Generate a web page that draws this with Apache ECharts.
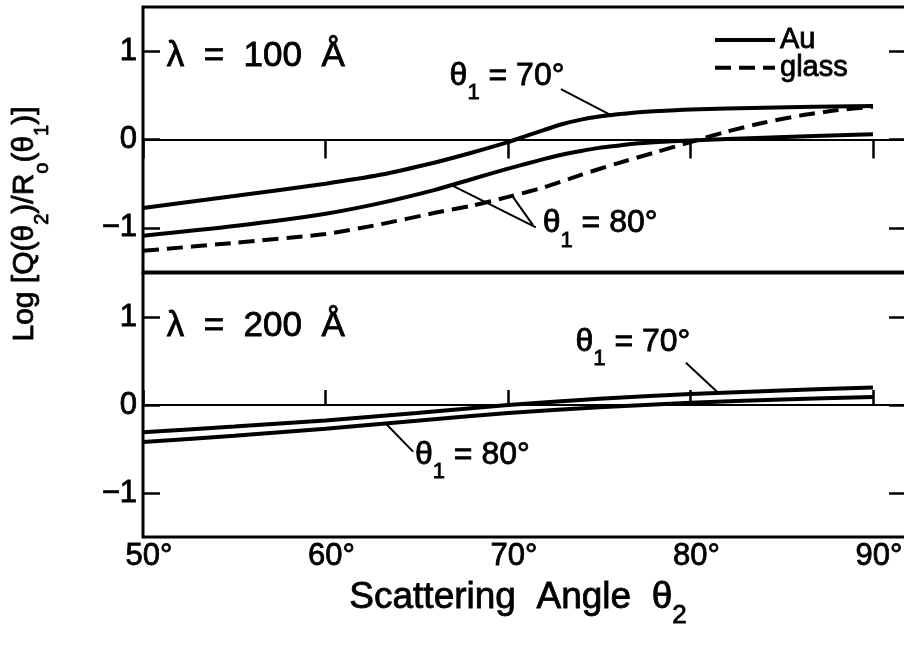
<!DOCTYPE html>
<html>
<head>
<meta charset="utf-8">
<style>
  html, body { margin: 0; padding: 0; background: #fff; }
  #chart { width: 904px; height: 648px; }
</style>
</head>
<body>
<div id="chart"></div>
<script src="https://cdn.jsdelivr.net/npm/echarts@6/dist/echarts.min.js"></script>
<script>
  // values: scattering angle θ2 (deg) -> log ratio
  const angleTop = [50, 55, 60, 63, 66, 68, 70, 71, 72, 73, 74, 75, 76, 77, 78, 80, 84, 90];
  const au70Top  = [-0.775, -0.64, -0.50, -0.40, -0.26, -0.15, -0.03, 0.04, 0.11, 0.175, 0.225, 0.26, 0.285, 0.305, 0.32, 0.34, 0.36, 0.38];
  const au80Top  = [-1.09, -0.98, -0.84, -0.72, -0.57, -0.45, -0.33, -0.275, -0.22, -0.17, -0.13, -0.095, -0.07, -0.045, -0.03, -0.01, 0.02, 0.06];

  const angleGlass = [50, 55, 60, 63, 66, 68, 70, 72, 74, 76, 78, 80, 82, 84, 86, 88, 90];
  const glass80Top = [-1.26, -1.17, -1.07, -0.96, -0.83, -0.75, -0.65, -0.54, -0.40, -0.27, -0.15, -0.03, 0.09, 0.19, 0.27, 0.33, 0.37];

  const angleBottom = [50, 55, 60, 65, 70, 75, 80, 85, 90];
  const au70Bottom  = [-0.31, -0.245, -0.175, -0.09, 0.0, 0.07, 0.125, 0.165, 0.20];
  const au80Bottom  = [-0.42, -0.35, -0.27, -0.18, -0.09, -0.025, 0.025, 0.062, 0.09];

  const xTicks = [50, 60, 70, 80, 90];
  const yTicks = [-1, 0, 1];

  // annotations, in data units [angle, value]
  const notesTop = [
    { text: '{b|λ  =  100  Å}', at: [51.3, 0.94] },
    { text: '{t|θ}{s|1}{t| = 70°}', at: [66.8, 0.65] },
    { text: '{t|θ}{s|1}{t| = 80°}', at: [71.9, -1.02] }
  ];
  const leadersTop = [
    [[72.9, 0.57], [75.64, 0.277]],
    [[66.93, -0.52], [71.53, -0.995]],
    [[70.27, -0.65], [71.37, -0.97]]
  ];
  const notesBottom = [
    { text: '{b|λ  =  200  Å}', at: [51.3, 0.89] },
    { text: '{t|θ}{s|1}{t| = 70°}', at: [73.7, 0.65] },
    { text: '{t|θ}{s|1}{t| = 80°}', at: [64.9, -0.64] }
  ];
  const leadersBottom = [
    [[79.75, 0.48], [81.5, 0.142]],
    [[63.3, -0.21], [64.8, -0.53]]
  ];

  const FF = '"Liberation Sans", Arial, Helvetica, sans-serif';
  // echarts label styles (axis labels, legend)
  const ink = { color: '#000', fontFamily: FF, textBorderColor: '#000', textBorderWidth: 0.8 };
  // zrender text styles (graphic elements)
  const zink = { fill: '#000', fontFamily: FF, stroke: '#000', lineWidth: 0.8 };
  const rich = {
    b: Object.assign({ fontSize: 35 }, zink),
    t: Object.assign({ fontSize: 32, lineHeight: 44, verticalAlign: 'top' }, zink),
    s: Object.assign({ fontSize: 22, lineHeight: 22, verticalAlign: 'bottom' }, zink)
  };

  const zip = (xs, ys) => xs.map((x, i) => [x, ys[i]]);

  function curve(name, xs, ys, grid, dashed) {
    return {
      name: name,
      type: 'line',
      xAxisIndex: grid,
      yAxisIndex: grid,
      data: zip(xs, ys),
      symbol: 'none',
      smooth: 0.25,
      silent: true,
      z: 3,
      itemStyle: { color: '#000' },
      lineStyle: { color: '#000', width: 4, type: dashed ? [16, 8] : 'solid' }
    };
  }

  function zeroAndLeaders(grid, leaders) {
    return {
      type: 'line',
      xAxisIndex: grid,
      yAxisIndex: grid,
      data: [],
      silent: true,
      markLine: {
        silent: true,
        symbol: ['none', 'none'],
        label: { show: false },
        lineStyle: { color: '#000', width: 2, type: 'solid' },
        data: [{ yAxis: 0 }].concat(leaders.map(l => [{ coord: l[0] }, { coord: l[1] }]))
      }
    };
  }

  function xAxis(grid, pos, tickLen, labels) {
    return {
      type: 'value', gridIndex: grid, position: pos,
      min: 50, max: 91.81,
      axisLine: { show: false },
      axisTick: { inside: true, length: tickLen, customValues: xTicks, lineStyle: { color: '#000', width: 2.5 } },
      axisLabel: Object.assign({
        show: labels, customValues: xTicks, fontSize: 31,
        margin: 4, padding: [0, 0, 0, 12], formatter: v => v + '°'
      }, ink),
      splitLine: { show: false }
    };
  }

  function yAxis(grid, pos, labels) {
    return {
      type: 'value', gridIndex: grid, position: pos,
      min: -1.5, max: 1.5,
      axisLine: { show: false },
      axisTick: { inside: true, length: 17, customValues: yTicks, lineStyle: { color: '#000', width: 2.5 } },
      axisLabel: Object.assign({
        show: labels, customValues: yTicks, fontSize: 31,
        margin: 6, formatter: v => (v < 0 ? '−' + (-v) : String(v))
      }, ink),
      splitLine: { show: false }
    };
  }

  const chart = echarts.init(document.getElementById('chart'), null, { renderer: 'canvas' });

  const option = {
    animation: false,
    backgroundColor: '#fff',
    grid: [
      { left: 143, top: 7, width: 763, height: 265, show: true, borderColor: '#000', borderWidth: 3, outerBoundsMode: 'none', containLabel: false },
      { left: 143, top: 273, width: 763, height: 264, show: true, borderColor: '#000', borderWidth: 3, outerBoundsMode: 'none', containLabel: false }
    ],
    xAxis: [xAxis(0, 'top', 19, false), xAxis(1, 'bottom', 15, true)],
    yAxis: [yAxis(0, 'left', true), yAxis(1, 'left', true), yAxis(0, 'right', false), yAxis(1, 'right', false)],
    legend: {
      data: ['Au', 'glass'],
      orient: 'vertical',
      left: 708, top: 20,
      itemWidth: 60, itemHeight: 14, itemGap: -2,
      selectedMode: false,
      itemStyle: { opacity: 0 },
      lineStyle: { width: 4, color: '#000' },
      textStyle: Object.assign({ fontSize: 29 }, ink)
    },
    series: [
      zeroAndLeaders(0, leadersTop),
      zeroAndLeaders(1, leadersBottom),
      curve('Au', angleTop, au70Top, 0, false),
      curve('Au', angleTop, au80Top, 0, false),
      curve('glass', angleGlass, glass80Top, 0, true),
      curve('Au', angleBottom, au70Bottom, 1, false),
      curve('Au', angleBottom, au80Bottom, 1, false)
    ]
  };

  chart.setOption(option);

  // text labels placed through the grid scales
  const graphics = [];
  function addNotes(notes, grid) {
    notes.forEach(n => {
      const p = chart.convertToPixel({ gridIndex: grid }, n.at);
      graphics.push({
        type: 'text', x: p[0], y: p[1], silent: true,
        style: { text: n.text, rich: rich, align: 'left', verticalAlign: 'middle' }
      });
    });
  }
  addNotes(notesTop, 0);
  addNotes(notesBottom, 1);

  graphics.push({
    type: 'text', x: 31, y: 224, rotation: Math.PI / 2, silent: true,
    style: {
      text: '{y|Log [Q(θ}{ys|2}{y|)/R}{ys|o}{y|(θ}{ys|1}{y|)]}',
      align: 'center', verticalAlign: 'middle',
      rich: {
        y: Object.assign({ fontSize: 30, lineHeight: 42, verticalAlign: 'top' }, zink),
        ys: Object.assign({ fontSize: 20, lineHeight: 20, verticalAlign: 'bottom' }, zink)
      }
    }
  });
  graphics.push({
    type: 'text', x: 518, y: 604, silent: true,
    style: {
      text: '{x|Scattering  Angle  θ}{xs|2}',
      align: 'center', verticalAlign: 'middle',
      rich: {
        x: Object.assign({ fontSize: 37, lineHeight: 50, verticalAlign: 'top' }, zink),
        xs: Object.assign({ fontSize: 26, lineHeight: 26, verticalAlign: 'bottom' }, zink)
      }
    }
  });

  chart.setOption({ graphic: graphics });
</script>
</body>
</html>
